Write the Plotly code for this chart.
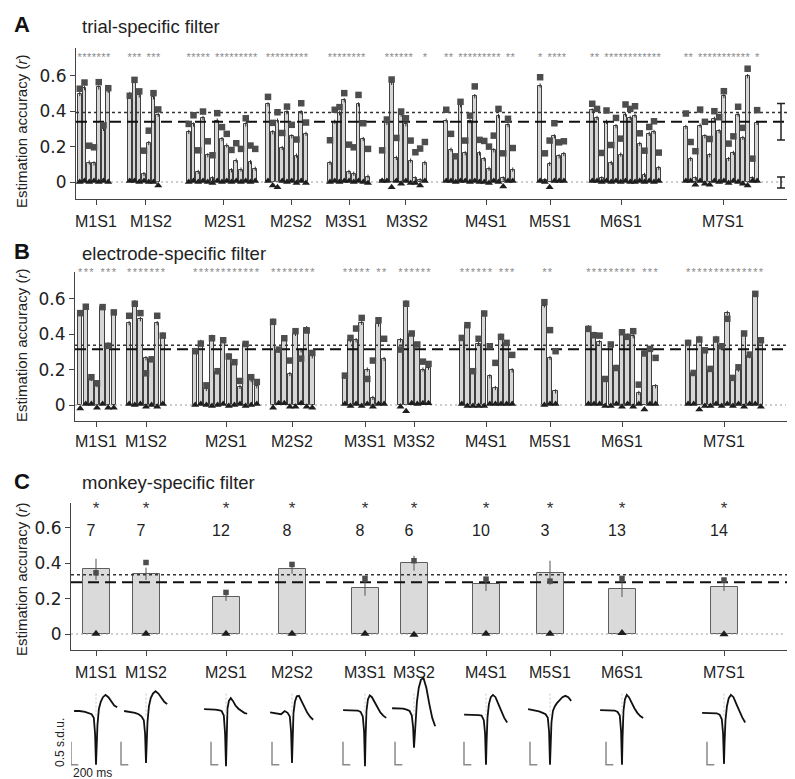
import plotly.graph_objects as go

# ---------------- data ----------------
GROUPS = ["M1S1", "M1S2", "M2S1", "M2S2", "M3S1", "M3S2", "M4S1", "M5S1", "M6S1", "M7S1"]
Y_TICKS = [0, 0.2, 0.4, 0.6]
Y_TICK_TEXT = ["0", "0.2", "0.4", "0.6"]

# Panel A: trial-specific filter (bar = estimation accuracy, square = second measure, triangle = chance)
A_BAR = [
    [0.497, 0.53, 0.11, 0.105, 0.534, 0.30, 0.515],
    [0.497, 0.572, 0.489, 0.045, 0.22, 0.478, 0.38],
    [0.283, 0.325, 0.057, 0.362, 0.151, 0.02, 0.347, 0.242, 0.206, 0.066, 0.121, 0.07, 0.325, 0.113, 0.075],
    [0.438, 0.281, 0.347, 0.192, 0.394, 0.258, 0.149, 0.394, 0.272],
    [0.108, 0.34, 0.389, 0.462, 0.057, 0.047, 0.438, 0.243, 0.03],
    [0.01, 0.334, 0.56, 0.136, 0.381, 0.326, 0.121, 0.02, 0.01, 0.108],
    [0.347, 0.183, 0.145, 0.434, 0.162, 0.343, 0.485, 0.162, 0.13, 0.075, 0.179, 0.372, 0.02, 0.321, 0.07],
    [0.545, 0.01, 0.102, 0.258, 0.145, 0.158],
    [0.404, 0.362, 0.02, 0.34, 0.108, 0.315, 0.155, 0.381, 0.362, 0.375, 0.215, 0.04, 0.272, 0.283, 0.079],
    [0.311, 0.13, 0.02, 0.319, 0.258, 0.151, 0.357, 0.287, 0.485, 0.13, 0.164, 0.381, 0.249, 0.598, 0.02, 0.334],
]
A_SQUARE = [
    [0.527, 0.562, 0.205, 0.196, 0.564, 0.32, 0.53],
    [0.487, 0.577, 0.512, 0.177, 0.29, 0.502, 0.41],
    [0.328, 0.377, 0.179, 0.398, 0.23, 0.151, 0.389, 0.31, 0.272, 0.181, 0.219, 0.187, 0.36, 0.206, 0.187],
    [0.481, 0.334, 0.394, 0.277, 0.426, 0.323, 0.24, 0.445, 0.336],
    [0.236, 0.408, 0.423, 0.502, 0.211, 0.196, 0.492, 0.332, 0.187],
    [0.179, 0.353, 0.579, 0.249, 0.398, 0.36, 0.234, 0.168, 0.189, 0.226],
    [0.408, 0.272, 0.145, 0.453, 0.234, 0.375, 0.54, 0.238, 0.232, 0.2, 0.262, 0.413, 0.162, 0.357, 0.192],
    [0.592, 0.162, 0.234, 0.332, 0.224, 0.23],
    [0.442, 0.413, 0.164, 0.404, 0.209, 0.362, 0.245, 0.438, 0.413, 0.428, 0.275, 0.177, 0.311, 0.343, 0.166],
    [0.387, 0.226, 0.174, 0.409, 0.34, 0.243, 0.40, 0.366, 0.513, 0.217, 0.258, 0.425, 0.306, 0.64, 0.132, 0.406],
]
A_TRIANGLE = [
    [0.0, 0.005, 0.0, 0.005, 0.0, 0.005, 0.0],
    [0.005, 0.005, 0.0, 0.005, 0.0, 0.0, -0.02],
    [0.0, 0.005, 0.0, 0.005, 0.0, -0.005, 0.005, 0.0, 0.005, 0.0, 0.005, 0.0, 0.005, 0.0, 0.005],
    [0.005, -0.02, -0.03, 0.005, 0.0, 0.005, -0.005, 0.005, -0.005],
    [0.0, 0.005, 0.0, 0.005, 0.005, 0.0, 0.005, 0.0, -0.005],
    [0.005, 0.005, -0.03, 0.005, -0.01, 0.005, -0.005, -0.005, -0.02, 0.005],
    [0.005, 0.005, 0.0, 0.005, 0.005, 0.0, 0.005, 0.0, 0.0, -0.005, 0.005, 0.0, -0.025, 0.005, 0.005],
    [0.005, 0.0, -0.03, 0.005, 0.005, 0.005],
    [0.005, 0.005, 0.0, 0.005, 0.0, 0.005, 0.0, 0.005, 0.0, 0.0, 0.005, 0.0, 0.005, 0.0, 0.005],
    [0.005, 0.005, -0.015, 0.005, -0.01, -0.015, 0.005, 0.0, 0.005, -0.005, 0.005, 0.0, -0.01, -0.02, 0.005, 0.005],
]
A_SIG = ["1111111", "1110111", "111110111111111", "111111111", "111111110",
         "0111111001", "110111111111011", "101111", "110111111111111", "1101111111111101"]
A_REF_DASHED = 0.34
A_REF_DOTTED = 0.393
A_SUMMARY_MEAN = [0.34, -0.003]
A_SUMMARY_ERR = [0.103, 0.031]

# Panel B: electrode-specific filter
B_BAR = [
    [0.525, 0.56, 0.147, 0.113, 0.553, 0.343, 0.528],
    [0.462, 0.581, 0.485, 0.264, 0.258, 0.462, 0.40],
    [0.30, 0.357, 0.091, 0.385, 0.185, 0.364, 0.279, 0.238, 0.102, 0.345, 0.14, 0.106],
    [0.477, 0.308, 0.377, 0.175, 0.402, 0.308, 0.434, 0.275],
    [0.166, 0.366, 0.366, 0.464, 0.20, 0.04, 0.455, 0.26],
    [0.366, 0.581, 0.402, 0.342, 0.20, 0.21],
    [0.379, 0.449, 0.191, 0.347, 0.521, 0.162, 0.096, 0.392, 0.351, 0.196],
    [0.562, 0.266, 0.077],
    [0.44, 0.402, 0.355, 0.143, 0.342, 0.215, 0.411, 0.392, 0.389, 0.068, 0.30, 0.317, 0.106],
    [0.357, 0.181, 0.379, 0.309, 0.20, 0.379, 0.332, 0.521, 0.149, 0.20, 0.404, 0.275, 0.621, 0.36],
]
B_SQUARE = [
    [0.519, 0.555, 0.157, 0.123, 0.553, 0.334, 0.523],
    [0.504, 0.572, 0.519, 0.179, 0.258, 0.504, 0.392],
    [0.304, 0.347, 0.111, 0.377, 0.191, 0.366, 0.274, 0.242, 0.136, 0.345, 0.157, 0.13],
    [0.47, 0.313, 0.377, 0.251, 0.417, 0.262, 0.421, 0.294],
    [0.166, 0.379, 0.432, 0.492, 0.147, 0.251, 0.479, 0.374],
    [0.313, 0.572, 0.404, 0.342, 0.245, 0.232],
    [0.379, 0.451, 0.191, 0.374, 0.517, 0.332, 0.238, 0.385, 0.351, 0.283],
    [0.581, 0.423, 0.304],
    [0.43, 0.394, 0.392, 0.147, 0.342, 0.209, 0.411, 0.385, 0.417, 0.115, 0.291, 0.317, 0.266],
    [0.351, 0.181, 0.37, 0.309, 0.204, 0.37, 0.332, 0.487, 0.153, 0.213, 0.404, 0.285, 0.628, 0.366],
]
B_TRIANGLE = [
    [-0.02, 0.005, 0.005, -0.015, 0.005, -0.015, -0.015],
    [0.005, 0.0, 0.005, -0.01, 0.0, -0.01, 0.005],
    [0.0, 0.005, 0.0, -0.005, 0.0, 0.005, -0.005, 0.0, 0.005, -0.005, 0.0, 0.005],
    [-0.015, 0.01, 0.01, -0.01, -0.01, 0.01, -0.01, -0.015],
    [0.005, -0.005, 0.005, -0.005, 0.005, -0.01, 0.005, 0.005],
    [-0.01, -0.035, 0.01, 0.005, 0.01, 0.01],
    [0.005, -0.005, -0.005, -0.005, -0.005, 0.005, 0.005, 0.005, 0.005, 0.005],
    [0.0, 0.005, 0.005],
    [0.005, 0.005, 0.005, -0.005, -0.005, 0.005, -0.01, 0.005, -0.01, 0.005, -0.025, 0.005, 0.005],
    [0.005, 0.005, -0.025, -0.005, -0.005, 0.005, -0.005, 0.005, -0.005, 0.005, -0.01, 0.005, 0.005, -0.01],
]
B_SIG = ["1110111", "1111111", "111111111111", "11111111", "11111011",
         "111111", "1111110111", "110", "1111111110111", "11111111111111"]
B_REF_DASHED = 0.315
B_REF_DOTTED = 0.337
B_SUMMARY_MEAN = [0.316, 0.004]
B_SUMMARY_ERR = [0.137, 0.034]

# Panel C: monkey-specific filter
C_BAR = [0.365, 0.34, 0.207, 0.365, 0.261, 0.40, 0.28, 0.346, 0.254, 0.265]
C_ERR = [0.06, 0.035, 0.02, 0.025, 0.045, 0.042, 0.037, 0.068, 0.045, 0.022]
C_SQUARE = [0.346, 0.404, 0.235, 0.393, 0.314, 0.414, 0.31, 0.299, 0.314, 0.305]
C_TRIANGLE = [0.002, 0.002, 0.002, 0.002, 0.002, -0.004, 0.002, 0.002, 0.005, -0.002]
C_N = [7, 7, 12, 8, 8, 6, 10, 3, 13, 14]
C_REF_DASHED = 0.292
C_REF_DOTTED = 0.335
C_SUMMARY_MEAN = [0.295, 0.002]
C_SUMMARY_ERR = [0.165, 0.045]

# Spike waveforms (s.d.u.), sampled at WAVE_T (ms, trough at 0)
WAVE_T = [-600, -450, -300, -200, -120, -60, -25, 0, 15, 40, 80, 130, 190, 260, 340, 420, 500, 580]
WAVES = [
    [0.0, 0.0, -0.02, -0.04, -0.07, -0.15, -0.5, -1.17, -0.8, -0.3, 0.05, 0.2, 0.3, 0.35, 0.3, 0.2, 0.12, 0.08],
    [0.0, -0.02, -0.04, -0.07, -0.12, -0.2, -0.5, -1.13, -0.75, -0.25, 0.1, 0.28, 0.38, 0.43, 0.38, 0.28, 0.2, 0.15],
    [0.04, 0.04, 0.03, 0.02, 0.0, -0.1, -0.5, -1.2, -0.6, 0.05, 0.22, 0.28, 0.22, 0.12, 0.05, 0.0, -0.04, -0.06],
    [-0.03, -0.05, -0.07, 0.0, -0.04, -0.12, -0.45, -1.13, -0.6, -0.05, 0.2, 0.32, 0.33, 0.22, 0.08, -0.04, -0.13, -0.19],
    [0.02, 0.02, 0.02, 0.01, -0.02, -0.12, -0.45, -1.2, -0.6, 0.0, 0.25, 0.34, 0.3, 0.2, 0.08, -0.03, -0.1, -0.15],
    [0.06, 0.06, 0.05, 0.03, 0.0, -0.1, -0.35, -0.8, -0.6, -0.2, 0.2, 0.5, 0.68, 0.72, 0.5, 0.15, -0.15, -0.33],
    [-0.08, -0.08, -0.08, -0.09, -0.1, -0.2, -0.5, -1.17, -0.7, -0.15, 0.15, 0.3, 0.35, 0.3, 0.15, -0.02, -0.15, -0.25],
    [0.04, 0.02, -0.01, -0.04, -0.07, -0.15, -0.45, -1.17, -0.7, -0.25, 0.0, 0.1, 0.17, 0.24, 0.3, 0.33, 0.3, 0.22],
    [0.02, 0.02, 0.02, 0.01, -0.02, -0.1, -0.45, -1.17, -0.6, 0.0, 0.25, 0.35, 0.3, 0.18, 0.06, -0.04, -0.11, -0.15],
    [-0.04, -0.04, -0.04, -0.05, -0.08, -0.18, -0.5, -1.15, -0.7, -0.2, 0.1, 0.28, 0.35, 0.3, 0.15, 0.0, -0.14, -0.25],
]
SCALE_SDU = 0.5
SCALE_MS = 200

# ---------------- layout constants (pixel geometry) ----------------
W, H = 795, 779
X_END = 785
A_CENTERS = [86, 136, 214, 279, 341, 395.5, 471.5, 544, 617.5, 713.5]
A_TICKS = [88, 137, 215, 283, 341, 397, 478, 542, 613, 715]
A_LABEL_X = [88, 143, 217, 283, 338, 399, 478, 542, 613, 715]
B_CENTERS = [89, 138, 218, 284.7, 356.5, 406.5, 479, 542, 614, 716.5]
BC_TICKS = [88, 138, 218, 284, 357, 406, 478, 542, 614, 716]
SLOT_A, SLOT_B = 4.75, 5.6
C_BAR_W = 27
PX_PER_MS = 7.3 / 200.0
SCALEBAR_OFFSET_MS = [-685, -685, -411, -548, -603, -520, -603, -548, -438, -466]
TROUGH_LEVEL = -1.17

FONT = "Liberation Sans, Arial, sans-serif"
TICK_FONT = "DejaVu Sans, sans-serif"
BAR_FILL = "#d6d6d6"
BAR_LINE = "#3f3f3f"
SQ_COLOR = "#4d4d4d"
TRI_COLOR = "#1e1e1e"


def px(x):
    return x / W


def py(y):
    return 1 - y / H


fig = go.Figure()


def electrode_panel(bars, squares, tris, sig, centers, slot, xa, ya, star_y,
                    ref_dash, ref_dot, s_mean, s_err, s_x, x0):
    xs, yb, ysq, ytri, sx = [], [], [], [], []
    for g in range(len(GROUPS)):
        n = len(bars[g])
        for i in range(n):
            x = centers[g] + (i - (n - 1) / 2.0) * slot
            xs.append(x)
            yb.append(bars[g][i])
            ysq.append(squares[g][i])
            ytri.append(tris[g][i])
            if sig[g][i] == "1":
                sx.append(x)
    fig.add_trace(go.Bar(x=xs, y=yb, width=slot * 0.8, xaxis=xa, yaxis=ya,
                         marker=dict(color=BAR_FILL, line=dict(color=BAR_LINE, width=1)),
                         error_y=dict(type="constant", value=0.012, thickness=1, width=0, color="#333"),
                         showlegend=False))
    fig.add_trace(go.Scatter(x=[x0, 778], y=[0, 0], mode="lines", xaxis=xa, yaxis=ya,
                             line=dict(color="#9a9a9a", width=1.2, dash="2px,3px"), showlegend=False))
    fig.add_trace(go.Scatter(x=[x0, 780], y=[ref_dot, ref_dot], mode="lines", xaxis=xa, yaxis=ya,
                             line=dict(color="#333", width=1.5, dash="3px,3px"), showlegend=False))
    fig.add_trace(go.Scatter(x=[x0, 780], y=[ref_dash, ref_dash], mode="lines", xaxis=xa, yaxis=ya,
                             line=dict(color="#111", width=2, dash="11px,6px"), showlegend=False))
    fig.add_trace(go.Scatter(x=xs, y=ysq, mode="markers", xaxis=xa, yaxis=ya,
                             marker=dict(symbol="square", size=6.5, color=SQ_COLOR), showlegend=False))
    fig.add_trace(go.Scatter(x=xs, y=ytri, mode="markers", xaxis=xa, yaxis=ya,
                             marker=dict(symbol="triangle-up", size=7, color=TRI_COLOR), showlegend=False))
    fig.add_trace(go.Scatter(x=sx, y=[star_y] * len(sx), mode="text", text=["*"] * len(sx),
                             xaxis=xa, yaxis=ya,
                             textfont=dict(family=FONT, size=11, color="#8a8a8a"),
                             cliponaxis=False, showlegend=False))
    fig.add_trace(go.Scatter(x=[s_x, s_x], y=s_mean, mode="markers", xaxis=xa, yaxis=ya,
                             marker=dict(size=2, color="rgba(0,0,0,0)"),
                             error_y=dict(type="data", array=s_err, thickness=1.5, width=4, color="#222"),
                             cliponaxis=False, showlegend=False))


electrode_panel(A_BAR, A_SQUARE, A_TRIANGLE, A_SIG, A_CENTERS, SLOT_A, "x", "y", 0.70,
                A_REF_DASHED, A_REF_DOTTED, A_SUMMARY_MEAN, A_SUMMARY_ERR, 773, 68)
electrode_panel(B_BAR, B_SQUARE, B_TRIANGLE, B_SIG, B_CENTERS, SLOT_B, "x2", "y2", 0.743,
                B_REF_DASHED, B_REF_DOTTED, B_SUMMARY_MEAN, B_SUMMARY_ERR, 786, 67)

# Panel C
fig.add_trace(go.Bar(x=BC_TICKS, y=C_BAR, width=C_BAR_W, xaxis="x3", yaxis="y3",
                     marker=dict(color="#dadada", line=dict(color="#5e5e5e", width=1)),
                     showlegend=False))
fig.add_trace(go.Scatter(x=[63, 778], y=[0, 0], mode="lines", xaxis="x3", yaxis="y3",
                         line=dict(color="#9a9a9a", width=1.2, dash="2px,3px"), showlegend=False))
fig.add_trace(go.Scatter(x=[63, 780], y=[C_REF_DOTTED] * 2, mode="lines", xaxis="x3", yaxis="y3",
                         line=dict(color="#333", width=1.5, dash="3px,3px"), showlegend=False))
fig.add_trace(go.Scatter(x=[63, 780], y=[C_REF_DASHED] * 2, mode="lines", xaxis="x3", yaxis="y3",
                         line=dict(color="#111", width=2, dash="11px,6px"), showlegend=False))
fig.add_trace(go.Scatter(x=BC_TICKS, y=C_BAR, mode="markers", xaxis="x3", yaxis="y3",
                         marker=dict(size=1, color="rgba(0,0,0,0)"),
                         error_y=dict(type="data", array=C_ERR, thickness=1, width=0, color="#555"),
                         showlegend=False))
fig.add_trace(go.Scatter(x=BC_TICKS, y=C_SQUARE, mode="markers", xaxis="x3", yaxis="y3",
                         marker=dict(symbol="square", size=5.5, color=SQ_COLOR), showlegend=False))
fig.add_trace(go.Scatter(x=BC_TICKS, y=C_TRIANGLE, mode="markers", xaxis="x3", yaxis="y3",
                         marker=dict(symbol="triangle-up", size=8, color=TRI_COLOR), showlegend=False))
fig.add_trace(go.Scatter(x=BC_TICKS, y=[0.70] * len(BC_TICKS), mode="text", text=["*"] * len(BC_TICKS),
                         xaxis="x3", yaxis="y3", textfont=dict(family=FONT, size=17, color="#333"),
                         cliponaxis=False, showlegend=False))
fig.add_trace(go.Scatter(x=[t - 5 for t in BC_TICKS], y=[0.576] * len(BC_TICKS), mode="text",
                         text=[str(n) for n in C_N], xaxis="x3", yaxis="y3",
                         textfont=dict(family=FONT, size=16, color="#222"),
                         cliponaxis=False, showlegend=False))
fig.add_trace(go.Scatter(x=[783, 783], y=C_SUMMARY_MEAN, mode="markers", xaxis="x3", yaxis="y3",
                         marker=dict(size=2, color="rgba(0,0,0,0)"),
                         error_y=dict(type="data", array=C_SUMMARY_ERR, thickness=1.5, width=4, color="#222"),
                         cliponaxis=False, showlegend=False))

# Waveforms
sb_x, sb_y, gl_x, gl_y = [], [], [], []
for g, wave in enumerate(WAVES):
    c = BC_TICKS[g]
    fig.add_trace(go.Scatter(x=[c + t * PX_PER_MS for t in WAVE_T], y=wave, mode="lines",
                             xaxis="x4", yaxis="y4", line=dict(color="#111", width=1.8),
                             showlegend=False))
    gl_x += [c, c, None]
    gl_y += [-0.1, 0.42, None]
    xb = c + SCALEBAR_OFFSET_MS[g] * PX_PER_MS
    sb_x += [xb, xb, xb + SCALE_MS * PX_PER_MS, None]
    sb_y += [TROUGH_LEVEL + SCALE_SDU, TROUGH_LEVEL, TROUGH_LEVEL, None]
fig.add_trace(go.Scatter(x=gl_x, y=gl_y, mode="lines", xaxis="x4", yaxis="y4",
                         line=dict(color="#c4c4c4", width=1, dash="2px,2px"), showlegend=False))
fig.add_trace(go.Scatter(x=sb_x, y=sb_y, mode="lines", xaxis="x4", yaxis="y4",
                         line=dict(color="#8a8a8a", width=1.5), showlegend=False))


def xaxis_cfg(x0, ticks):
    return dict(domain=[px(x0), px(X_END)], range=[x0, X_END], showline=True, linecolor="#444",
                linewidth=1, ticks="outside", ticklen=5, tickcolor="#444", tickvals=ticks,
                showticklabels=False, showgrid=False, zeroline=False, fixedrange=True)


def yaxis_cfg(ytop, ybot, y0):
    s = 177.0
    return dict(domain=[py(ybot), py(ytop)], range=[(y0 - ybot) / s, (y0 - ytop) / s],
                showline=True, linecolor="#444", linewidth=1, ticks="outside", ticklen=5,
                tickcolor="#444", tickvals=Y_TICKS, ticktext=Y_TICK_TEXT,
                tickfont=dict(family=TICK_FONT, size=17, color="#222"),
                showgrid=False, zeroline=False, fixedrange=True)


fig.update_layout(
    width=W, height=H, autosize=False, margin=dict(l=0, r=0, t=0, b=0),
    paper_bgcolor="white", plot_bgcolor="white", barmode="overlay", bargap=0,
    font=dict(family=FONT, color="#222"),
    xaxis=dict(xaxis_cfg(68, A_TICKS), anchor="y"), yaxis=dict(yaxis_cfg(40, 191, 174), anchor="x"),
    xaxis2=dict(xaxis_cfg(67, BC_TICKS), anchor="y2"), yaxis2=dict(yaxis_cfg(264, 413, 397), anchor="x2"),
    xaxis3=dict(xaxis_cfg(63, BC_TICKS), anchor="y3"), yaxis3=dict(yaxis_cfg(495, 642, 626), anchor="x3"),
    xaxis4=dict(domain=[px(63), px(X_END)], range=[63, X_END], visible=False, anchor="y4"),
    yaxis4=dict(domain=[py(779), py(650)], range=[-(779 - 703) / 46.0, (703 - 650) / 46.0],
                visible=False, anchor="x4"),
)

ann = []
for letter, title, yc in [("A", "trial-specific filter", 17), ("B", "electrode-specific filter", 244),
                          ("C", "monkey-specific filter", 473)]:
    ann.append(dict(x=px(4), y=py(yc), xref="paper", yref="paper", text="<b>%s</b>" % letter,
                    showarrow=False, xanchor="left", yanchor="middle",
                    font=dict(family=FONT, size=22, color="#111")))
    ann.append(dict(x=px(72), y=py(yc + 1), xref="paper", yref="paper", text=title,
                    showarrow=False, xanchor="left", yanchor="middle",
                    font=dict(family=FONT, size=18.5, color="#222")))
for yc in [124, 338, 572]:
    ann.append(dict(x=px(13), y=py(yc), xref="paper", yref="paper",
                    text="Estimation accuracy (<i>r</i>)", textangle=-90, showarrow=False,
                    xanchor="center", yanchor="middle", font=dict(family=FONT, size=15, color="#222")))
for g, name in enumerate(GROUPS):
    ann.append(dict(x=px(A_LABEL_X[g]), y=py(213), xref="paper", yref="paper", text=name,
                    showarrow=False, xanchor="center", yanchor="middle",
                    font=dict(family=FONT, size=16, color="#222")))
    for yl in [433, 664]:
        ann.append(dict(x=px(BC_TICKS[g]), y=py(yl), xref="paper", yref="paper", text=name,
                        showarrow=False, xanchor="center", yanchor="middle",
                        font=dict(family=FONT, size=16, color="#222")))
ann.append(dict(x=px(52), y=py(735), xref="paper", yref="paper", text="0.5 s.d.u.", textangle=-90,
                showarrow=False, xanchor="center", yanchor="middle",
                font=dict(family=FONT, size=12, color="#222")))
ann.append(dict(x=px(63), y=py(765), xref="paper", yref="paper", text="200 ms",
                showarrow=False, xanchor="left", yanchor="middle",
                font=dict(family=FONT, size=12, color="#222")))
fig.update_layout(annotations=ann)

fig.write_html("out.html")
